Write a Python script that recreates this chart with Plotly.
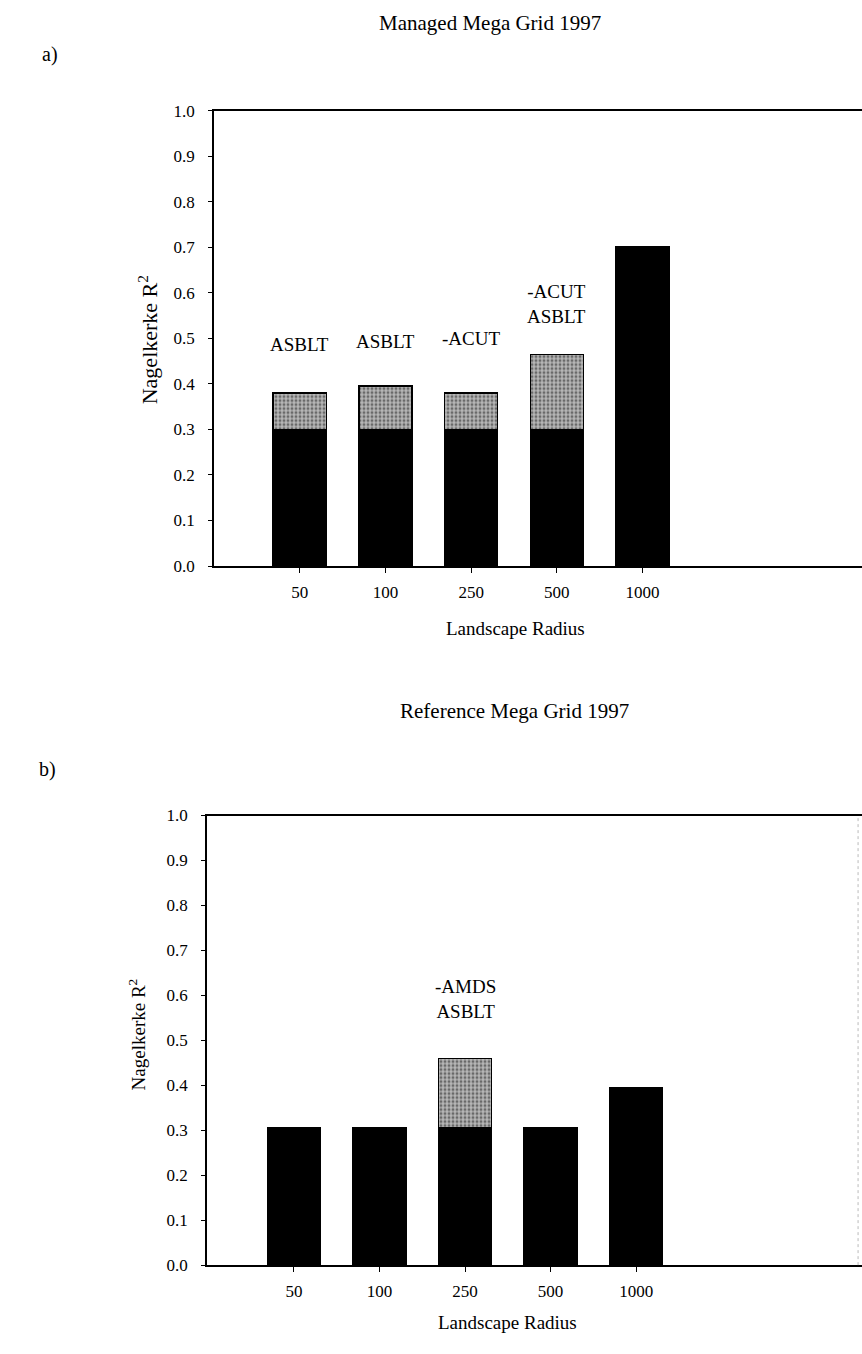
import plotly.graph_objects as go

# ---- data ----
categories = ["50", "100", "250", "500", "1000"]
base_a = [0.30, 0.30, 0.30, 0.30, 0.70]
total_a = [0.38, 0.395, 0.38, 0.465, 0.70]
labels_a = ["ASBLT", "ASBLT", "-ACUT", "-ACUT<br>ASBLT", ""]
label_y_a = [0.487, 0.492, 0.50, 0.575, None]

base_b = [0.305, 0.305, 0.305, 0.305, 0.395]
total_b = [0.305, 0.305, 0.46, 0.305, 0.395]
labels_b = ["", "", "-AMDS<br>ASBLT", "", ""]
label_y_b = [None, None, 0.593, None, None]

yticks = [0.0, 0.1, 0.2, 0.3, 0.4, 0.5, 0.6, 0.7, 0.8, 0.9, 1.0]

FONT = "Liberation Serif"
W, H = 862, 1354

inc_a = [t - b for t, b in zip(total_a, base_a)]
inc_b = [t - b for t, b in zip(total_b, base_b)]

pattern = dict(shape=".", fgcolor="#1a1a1a", bgcolor="#b8b8b8", size=4, solidity=0.45)

fig = go.Figure()
bw = 0.62
fig.add_trace(go.Bar(x=categories, y=base_a, marker=dict(color="black", line=dict(color="black", width=1.5)),
                     width=bw, xaxis="x", yaxis="y", showlegend=False, hoverinfo="skip"))
fig.add_trace(go.Bar(x=categories, y=inc_a, marker=dict(color="#b8b8b8", pattern=pattern,
                     line=dict(color="black", width=1.5)), width=bw, xaxis="x", yaxis="y",
                     showlegend=False, hoverinfo="skip"))
fig.add_trace(go.Bar(x=categories, y=base_b, marker=dict(color="black", line=dict(color="black", width=1.5)),
                     width=bw, xaxis="x2", yaxis="y2", showlegend=False, hoverinfo="skip"))
fig.add_trace(go.Bar(x=categories, y=inc_b, marker=dict(color="#b8b8b8", pattern=pattern,
                     line=dict(color="black", width=1.5)), width=bw, xaxis="x2", yaxis="y2",
                     showlegend=False, hoverinfo="skip"))

def px_x(p):
    return p / W

def px_y(p):
    return 1 - p / H

axis_common = dict(showline=True, linecolor="black", linewidth=1.5, showgrid=False, zeroline=False,
                   ticks="outside", tickcolor="black")
xtickfont = dict(family=FONT, size=17, color="black")
ytickfont = dict(family=FONT, size=17, color="black")

fig.update_layout(
    width=W, height=H, margin=dict(l=0, r=0, t=0, b=0),
    paper_bgcolor="white", plot_bgcolor="white", barmode="stack",
    font=dict(family=FONT, color="black"),
    xaxis=dict(domain=[px_x(214), 1.0], type="category", range=[-1.0, 6.56], mirror=True,
               ticklen=5, ticklabelstandoff=5, anchor="y", tickfont=xtickfont, **axis_common),
    yaxis=dict(domain=[px_y(565), px_y(103)], range=[0, 1.0], tickvals=yticks, tickformat=".1f",
               ticklen=4, ticklabelstandoff=10, anchor="x", tickfont=ytickfont, **axis_common),
    xaxis2=dict(domain=[px_x(207), 1.0], type="category", range=[-1.016, 6.64], mirror=True,
                ticklen=5, ticklabelstandoff=5, anchor="y2", tickfont=xtickfont, **axis_common),
    yaxis2=dict(domain=[px_y(1274), px_y(818)], range=[0, 1.0], tickvals=yticks, tickformat=".1f",
                ticklen=4, ticklabelstandoff=10, anchor="x2", tickfont=ytickfont, **axis_common),
)

def pann(text, x, y, size, angle=0):
    return dict(text=text, x=px_x(x), y=px_y(y), xref="paper", yref="paper", xanchor="center",
                yanchor="middle", textangle=angle, showarrow=False, font=dict(family=FONT, size=size))

ann = [
    pann("Managed Mega Grid 1997", 490, 14, 21),
    pann("a)", 50, 46, 20),
    pann("Reference Mega Grid 1997", 514, 712, 21),
    pann("b)", 47, 771, 20),
    pann("Nagelkerke R<sup>2</sup>", 148, 336, 22, -90),
    pann("Landscape Radius", 515, 628, 19),
    pann("Nagelkerke R<sup>2</sup>", 137, 1040, 19, -90),
    pann("Landscape Radius", 508, 1332, 19),
]
for i, (t, yv) in enumerate(zip(labels_a, label_y_a)):
    if t:
        ann.append(dict(text=t, x=i, y=yv, xref="x", yref="y", xanchor="center", yanchor="middle",
                        showarrow=False, font=dict(family=FONT, size=19)))
for i, (t, yv) in enumerate(zip(labels_b, label_y_b)):
    if t:
        ann.append(dict(text=t, x=i, y=yv, xref="x2", yref="y2", xanchor="center", yanchor="middle",
                        showarrow=False, font=dict(family=FONT, size=19)))
fig.update_layout(annotations=ann)

# faint right border of panel b
fig.add_shape(type="line", xref="x2 domain", yref="y2 domain", x0=0.994, x1=0.994, y0=0, y1=1,
              line=dict(color="#bbbbbb", width=1, dash="dot"))

fig.write_html("out.html", config={"displayModeBar": False},
               post_script="document.body.style.margin='0';document.body.style.overflow='hidden';")
